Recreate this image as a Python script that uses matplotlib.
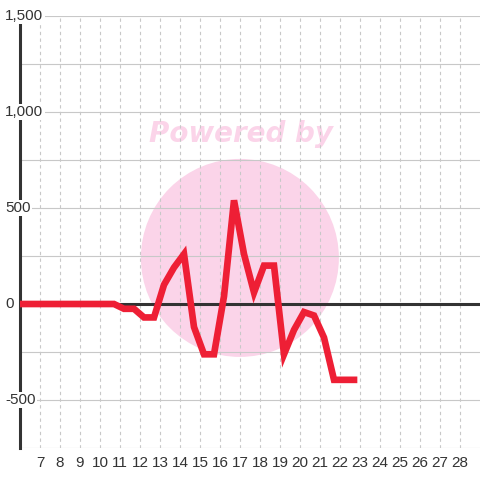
import matplotlib
matplotlib.use("Agg")
import matplotlib.pyplot as plt
from matplotlib.patches import Ellipse
from matplotlib.transforms import blended_transform_factory

plt.rcParams['font.family'] = ['Liberation Sans', 'DejaVu Sans']

# data
x_vals = [5.7, 6.2, 6.7, 7.2, 7.7, 8.2, 8.7, 9.2, 9.7, 10.2, 10.7,
          11.2, 11.7, 12.2, 12.7, 13.2, 13.7, 14.2, 14.7, 15.2, 15.7,
          16.2, 16.7, 17.2, 17.7, 18.2, 18.7, 19.2, 19.7, 20.2, 20.7,
          21.2, 21.7, 22.2, 22.7]
y_vals = [0, 0, 0, 0, 0, 0, 0, 0, 0, 0, 0,
          -25, -25, -70, -70, 100, 190, 260, -120, -262, -262,
          40, 540, 260, 60, 200, 200, -262, -135, -42, -60,
          -175, -395, -395, -395]
x_ticks = list(range(7, 29))
y_ticks = [-500, 0, 500, 1000, 1500]
y_tick_labels = ['-500', '0', '500', '1,000', '1,500']
y_grid = [-750, -500, -250, 0, 250, 500, 750, 1000, 1250, 1500]

fig = plt.figure(figsize=(4.8, 4.8), dpi=100)
ax = fig.add_axes([20 / 480, 32 / 480, 460 / 480, 432 / 480])
ax.set_xlim(6, 29)
ax.set_ylim(-750, 1500)

for s in ['top', 'right', 'bottom']:
    ax.spines[s].set_visible(False)
ax.spines['left'].set_color('#333333')
ax.spines['left'].set_linewidth(2.2)
ax.spines['left'].set_zorder(3)

# watermark
ax.add_patch(Ellipse((0.478, 0.44), 198 / 460, 198 / 432, transform=ax.transAxes,
                     facecolor='#fbd4e9', edgecolor='none', zorder=0.1))
ax.text(0.481, 0.728, 'Powered by', transform=ax.transAxes, ha='center', va='center',
        fontsize=20, fontweight='bold', fontstyle='italic', family='DejaVu Sans',
        color='#fbd4e9', zorder=0.1)

# grid
for g in y_grid:
    ax.axhline(g, color='#c8c8c8', lw=0.8, zorder=0.5)
for t in x_ticks:
    ax.axvline(t, color='#c8c8c8', lw=0.8, ls=(0, (3, 3)), zorder=0.5)
ax.axhline(0, color='#333333', lw=2.2, zorder=2)

ax.plot(x_vals, y_vals, color='#ee1f35', lw=4.8, solid_joinstyle='miter', zorder=4)

ax.set_xticks(x_ticks)
ax.set_xticklabels([str(t) for t in x_ticks])
ax.tick_params(axis='x', length=0, pad=6, labelsize=11, labelcolor='#333333')
ax.set_yticks([])

trans = blended_transform_factory(ax.transAxes, ax.transData)
for v, lab in zip(y_ticks, y_tick_labels):
    ax.text(-15 / 460, v, lab, transform=trans, ha='left', va='center', fontsize=11,
            color='#333333', zorder=5,
            bbox=dict(facecolor='white', edgecolor='none', pad=1))

fig.savefig('out.png', dpi=100)
